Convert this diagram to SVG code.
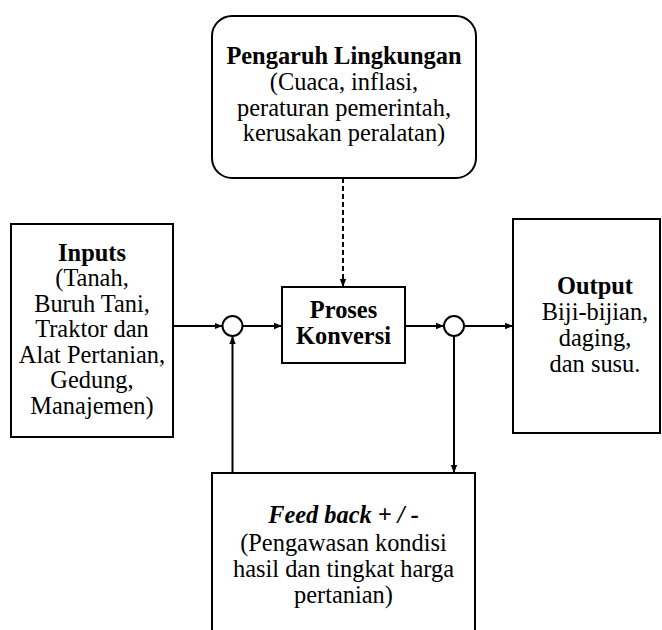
<svg xmlns="http://www.w3.org/2000/svg" width="662" height="630" viewBox="0 0 662 630">
<defs>
<marker id="ah" viewBox="0 0 10 10" refX="10" refY="5" markerWidth="8" markerHeight="8" markerUnits="userSpaceOnUse" orient="auto">
<path d="M0,1 L10,5 L0,9 Z" fill="#000"/>
</marker>
</defs>
<style>
.box{fill:#fff;stroke:#000;stroke-width:2}
.t{font-family:'Liberation Serif','Times New Roman',serif;font-size:24.4px;fill:#000;text-anchor:middle}
.b{font-weight:bold}
.bi{font-weight:bold;font-style:italic}
.ln{fill:none;stroke:#000;stroke-width:2}
.dash{stroke-dasharray:5,3}
.c{fill:#fff;stroke:#000;stroke-width:2}
</style>
<rect width="662" height="630" fill="#fff"/>
<g id="connectors">
<line class="ln dash" x1="343" y1="178" x2="343" y2="287" marker-end="url(#ah)"/>
<line class="ln" x1="173" y1="326" x2="222.5" y2="326" marker-end="url(#ah)"/>
<line class="ln" x1="242.5" y1="326" x2="282" y2="326" marker-end="url(#ah)"/>
<line class="ln" x1="405" y1="326" x2="444" y2="326" marker-end="url(#ah)"/>
<line class="ln" x1="464" y1="326" x2="513" y2="326" marker-end="url(#ah)"/>
<line class="ln" x1="454" y1="336" x2="454" y2="473" marker-end="url(#ah)"/>
<line class="ln" x1="232.5" y1="473" x2="232.5" y2="336" marker-end="url(#ah)"/>
</g>
<g id="sum1"><circle class="c" cx="232.5" cy="326" r="10"/></g>
<g id="sum2"><circle class="c" cx="454" cy="326" r="10"/></g>
<g id="lingkungan">
<rect class="box" x="212" y="16" width="264" height="162" rx="20" ry="20"/>
<text class="t b" x="344" y="64">Pengaruh Lingkungan</text>
<text class="t" x="344" y="90">(Cuaca, inflasi,</text>
<text class="t" x="344" y="116">peraturan pemerintah,</text>
<text class="t" x="344" y="141">kerusakan peralatan)</text>
</g>
<g id="inputs">
<rect class="box" x="11" y="224" width="162" height="213"/>
<text class="t b" x="92" y="261">Inputs</text>
<text class="t" x="92" y="286">(Tanah,</text>
<text class="t" x="92" y="312">Buruh Tani,</text>
<text class="t" x="92" y="337">Traktor dan</text>
<text class="t" x="92" y="363">Alat Pertanian,</text>
<text class="t" x="92" y="388">Gedung,</text>
<text class="t" x="92" y="414">Manajemen)</text>
</g>
<g id="proses">
<rect class="box" x="282" y="287" width="123" height="76"/>
<text class="t b" x="343.5" y="318">Proses</text>
<text class="t b" x="343.5" y="344">Konversi</text>
</g>
<g id="output">
<rect class="box" x="513" y="219" width="147" height="214"/>
<text class="t b" x="595" y="294">Output</text>
<text class="t" x="595" y="320">Biji-bijian,</text>
<text class="t" x="595" y="346">daging,</text>
<text class="t" x="595" y="372">dan susu.</text>
</g>
<g id="feedback">
<rect class="box" x="212" y="473" width="263" height="170"/>
<text class="t bi" x="343.5" y="523">Feed back + / -</text>
<text class="t" x="343.5" y="551">(Pengawasan kondisi</text>
<text class="t" x="343.5" y="577">hasil dan tingkat harga</text>
<text class="t" x="343.5" y="603">pertanian)</text>
</g>
</svg>
